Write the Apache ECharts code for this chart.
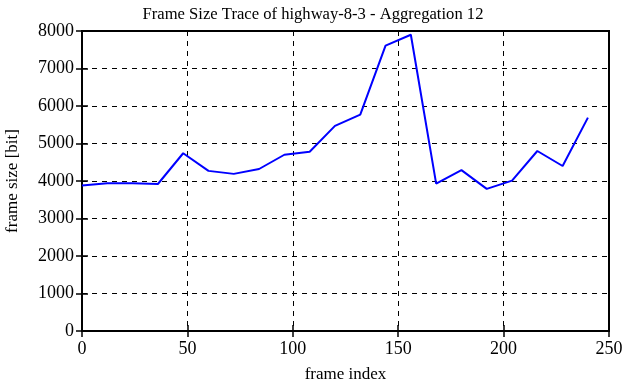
<!DOCTYPE html>
<html><head><meta charset="utf-8">
<script src="https://cdn.jsdelivr.net/npm/echarts@6/dist/echarts.min.js"></script>
<style>html,body{margin:0;padding:0;background:#fff}#c{width:626px;height:382px}</style>
</head><body><div id="c"></div>
<script>
const frameIndex = [0,12,24,36,48,60,72,84,96,108,120,132,144,156,168,180,192,204,216,228,240];
const frameSize = [3880,3940,3940,3920,4740,4270,4190,4320,4700,4780,5470,5770,7610,7900,3930,4290,3790,4010,4800,4400,5690];
const xTicks = [0,50,100,150,200,250];
const yTicks = [0,1000,2000,3000,4000,5000,6000,7000,8000];

const font = '"Liberation Serif", "DejaVu Serif", serif';
const chart = echarts.init(document.getElementById('c'), null, {renderer:'canvas'});
const dash = {type:[5,5], color:'#000', width:1};
chart.setOption({
  animation:false,
  title:{text:'Frame Size Trace of highway-8-3 - Aggregation 12', left:'center', top:1,
    textStyle:{fontFamily:font, fontSize:16.6, fontWeight:'normal', color:'#000'}},
  grid:{left:82, right:17, top:31, bottom:51, outerBoundsMode:'none', containLabel:false,
    show:true, borderColor:'#000', borderWidth:2, backgroundColor:'transparent'},
  xAxis:[{type:'value', min:xTicks[0], max:xTicks[xTicks.length-1], interval:50,
    name:'frame index', nameLocation:'middle', nameGap:35,
    nameTextStyle:{fontFamily:font, fontSize:17, color:'#000'},
    axisLine:{show:false}, axisTick:{show:true, inside:true, length:6, lineStyle:{color:'#000', width:1.5}},
    axisLabel:{fontFamily:font, fontSize:18, color:'#000', margin:9, formatter:v=>String(v)},
    splitLine:{show:true, lineStyle:dash}},
   {type:'value', position:'top', min:0, max:250, interval:50, axisLine:{show:false},
    axisTick:{show:true, inside:true, length:6, lineStyle:{color:'#000', width:1.5}}, axisLabel:{show:false}, splitLine:{show:false}}],
  yAxis:[{type:'value', min:yTicks[0], max:yTicks[yTicks.length-1], interval:1000,
    name:'frame size [bit]', nameLocation:'middle', nameGap:61,
    nameTextStyle:{fontFamily:font, fontSize:17, color:'#000'},
    axisLine:{show:false}, axisTick:{show:true, inside:true, length:6, lineStyle:{color:'#000', width:1.5}},
    axisLabel:{fontFamily:font, fontSize:18, color:'#000', margin:8, formatter:v=>String(v)},
    splitLine:{show:true, lineStyle:dash}},
   {type:'value', position:'right', min:0, max:8000, interval:1000, axisLine:{show:false},
    axisTick:{show:true, inside:true, length:6, lineStyle:{color:'#000', width:1.5}}, axisLabel:{show:false}, splitLine:{show:false}}],
  series:[{type:'line', data:frameIndex.map((x,i)=>[x,frameSize[i]]), symbol:'none',
    lineStyle:{color:'#0000ff', width:2}, itemStyle:{color:'#0000ff'}}]
});
</script></body></html>
